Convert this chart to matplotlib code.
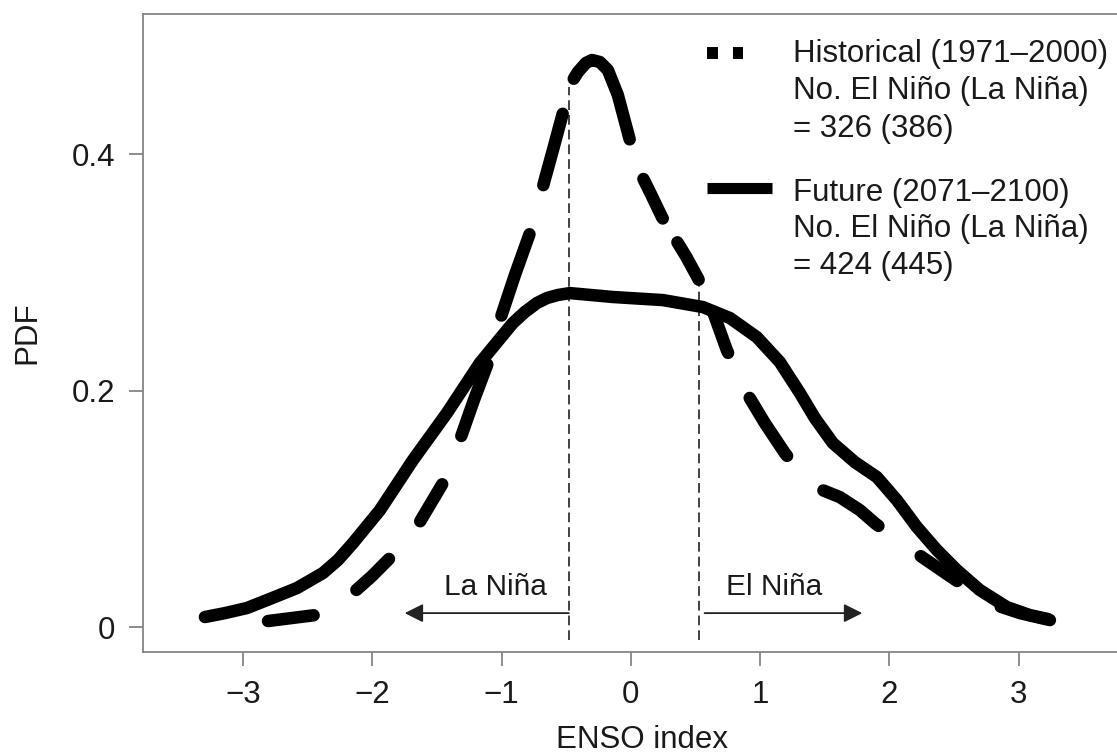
import matplotlib
matplotlib.use("Agg")
import matplotlib.pyplot as plt
from matplotlib.lines import Line2D

plt.rcParams['font.family'] = ['Liberation Sans', 'DejaVu Sans']
plt.rcParams['lines.scale_dashes'] = False

# ENSO index PDF, historical (dashed) vs future (solid)
hist_x = [-2.807, -2.444, -2.289, -2.150, -2.003, -1.864, -1.647, -1.454, -1.323, -1.214,
          -1.106, -1.013, -0.897, -0.781, -0.688, -0.603, -0.526, -0.472, -0.410, -0.348,
          -0.302, -0.240, -0.178, -0.101, -0.008, 0.070, 0.162, 0.240, 0.325, 0.425,
          0.518, 0.611, 0.742, 0.882, 1.036, 1.191, 1.307, 1.423, 1.616, 1.771,
          1.887, 2.026, 2.173, 2.490, 2.776, 3.009, 3.241]
hist_y = [0.0051, 0.0101, 0.0186, 0.0288, 0.0431, 0.0584, 0.0863, 0.1218, 0.1581, 0.1920,
          0.2233, 0.2596, 0.2977, 0.3332, 0.3696, 0.4034, 0.4347, 0.4584, 0.4693, 0.4770,
          0.4795, 0.4778, 0.4710, 0.4499, 0.4118, 0.3848, 0.3645, 0.3467, 0.3315, 0.3137,
          0.2951, 0.2740, 0.2342, 0.2004, 0.1725, 0.1471, 0.1311, 0.1184, 0.1099, 0.0989,
          0.0879, 0.0761, 0.0651, 0.0414, 0.0203, 0.0118, 0.0059]

fut_x = [-3.295, -3.140, -2.970, -2.776, -2.583, -2.382, -2.266, -2.150, -1.941, -1.686,
         -1.423, -1.168, -0.913, -0.820, -0.727, -0.650, -0.565, -0.472, -0.139, 0.247,
         0.557, 0.766, 0.974, 1.152, 1.307, 1.423, 1.562, 1.732, 1.903, 2.057,
         2.212, 2.367, 2.521, 2.699, 2.908, 3.086, 3.225]
fut_y = [0.0085, 0.0118, 0.0161, 0.0245, 0.0330, 0.0457, 0.0567, 0.0710, 0.0989, 0.1412,
         0.1810, 0.2233, 0.2571, 0.2664, 0.2740, 0.2782, 0.2808, 0.2824, 0.2791, 0.2765,
         0.2706, 0.2613, 0.2452, 0.2241, 0.1979, 0.1767, 0.1556, 0.1395, 0.1268, 0.1074,
         0.0846, 0.0651, 0.0482, 0.0313, 0.0169, 0.0101, 0.0068]

# thresholds (vertical guide lines) and the curve height where they start
thr_x = [-0.48, 0.53]
thr_top = [0.457, 0.293]
thr_bottom = -0.011

hist_label = "Historical (1971\u20132000)\nNo. El Ni\u00f1o (La Ni\u00f1a)\n= 326 (386)"
fut_label = "Future (2071\u20132100)\nNo. El Ni\u00f1o (La Ni\u00f1a)\n= 424 (445)"

txt = '#1a1a1a'
spine = '#858585'
fs = 22.5

# irregular long-dash pattern of the historical curve (pixels -> points)
dash_on = [46, 45, 43, 76, 86, 74, 119, 44, 43, 44, 69, 66, 44, 64]
dash_off = [50, 49, 52, 51, 51, 37, 42, 28, 35, 50, 51, 52, 51, 100]
hist_dashes = []
for a, b in zip(dash_on, dash_off):
    hist_dashes += [a * 0.72, b * 0.72]

fig = plt.figure(figsize=(11.17, 7.53), dpi=100)
ax = fig.add_axes([0.128, 0.1341, 0.894, 0.8473])

ax.plot(hist_x, hist_y, color='black', lw=9.0, dashes=hist_dashes,
        dash_capstyle='round', dash_joinstyle='round', zorder=3)
ax.plot(fut_x, fut_y, color='black', lw=9.0, solid_capstyle='round',
        solid_joinstyle='round', zorder=3)

for xv, top in zip(thr_x, thr_top):
    ax.plot([xv, xv], [thr_bottom, top], color='#333333', lw=1.3,
            linestyle=(0, (7, 3.6)), zorder=2)

# arrows
ax.annotate('', xy=(-1.75, 0.0118), xytext=(thr_x[0], 0.0118),
            arrowprops=dict(arrowstyle='-|>', color='#222222', lw=1.3,
                            mutation_scale=28, shrinkA=0, shrinkB=0))
ax.annotate('', xy=(1.79, 0.0118), xytext=(0.57, 0.0118),
            arrowprops=dict(arrowstyle='-|>', color='#222222', lw=1.3,
                            mutation_scale=28, shrinkA=0, shrinkB=0))
ax.text(-1.05, 0.034, "La Ni\u00f1a", ha='center', va='center', fontsize=21.5, color=txt)
ax.text(1.106, 0.034, "El Ni\u00f1a", ha='center', va='center', fontsize=21.5, color=txt)

# legend drawn by hand
ax.add_line(Line2D([0.5647, 0.6008], [0.9389, 0.9389], transform=ax.transAxes,
                   color='black', lw=8.6, dashes=(7.9, 10.8), dash_capstyle='butt'))
ax.add_line(Line2D([0.5647, 0.6298], [0.7273, 0.7273], transform=ax.transAxes,
                   color='black', lw=8.0, solid_capstyle='butt'))
ax.text(0.6508, 0.9608, hist_label, transform=ax.transAxes, ha='left', va='top',
        fontsize=fs, color=txt, linespacing=1.32)
ax.text(0.6508, 0.7429, fut_label, transform=ax.transAxes, ha='left', va='top',
        fontsize=fs, color=txt, linespacing=1.28)

ax.set_xlim(-3.774, 3.95)
ax.set_ylim(-0.0211, 0.5184)
ax.set_xticks([-3, -2, -1, 0, 1, 2, 3])
ax.set_xticklabels(['\u22123', '\u22122', '\u22121', '0', '1', '2', '3'])
ax.set_yticks([0, 0.2, 0.4])
ax.set_yticklabels(['0', '0.2', '0.4'])
ax.tick_params(direction='out', length=10, width=1.3, color=spine,
               labelsize=fs, labelcolor=txt, pad=10)
for s in ['left', 'bottom', 'top']:
    ax.spines[s].set_color(spine)
    ax.spines[s].set_linewidth(1.3)
ax.spines['right'].set_visible(False)

ax.set_xlabel("ENSO index", fontsize=fs, color=txt, labelpad=11)
ax.set_ylabel("PDF", fontsize=fs, color=txt, labelpad=21)

fig.savefig('out.png', dpi=100)
